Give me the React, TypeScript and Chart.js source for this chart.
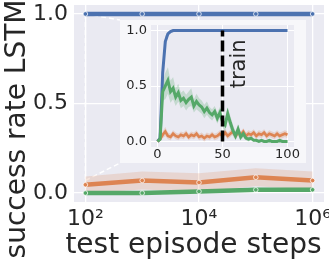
import React, { useEffect, useRef } from "react";
import { Chart, registerables } from "chart.js";

Chart.register(...registerables);

// ---------- data ----------
const MAIN_STEPS = [100, 1000, 10000, 100000, 1000000];
const MAIN_BLUE = [1, 1, 1, 1, 1];
const MAIN_BLUE_SD = [0, 0, 0, 0, 0];
const MAIN_ORANGE = [0.046, 0.07, 0.059, 0.088, 0.07];
const MAIN_ORANGE_SD = [0.046, 0.05, 0.051, 0.05, 0.05];
const MAIN_GREEN = [0.0, 0.0, 0.009, 0.018, 0.018];
const MAIN_GREEN_SD = [0.004, 0.004, 0.008, 0.012, 0.012];
const MAIN_X_TICKS = [100, 10000, 1000000];
const MAIN_X_TICK_LABELS = ["10²", "10⁴", "10⁶"];
const MAIN_Y_TICKS = [0, 0.5, 1.0];
const MAIN_Y_TICK_LABELS = ["0.0", "0.5", "1.0"];
const X_LABEL = "test episode steps";
const Y_LABEL = "success rate LSTM";

const INSET_STEPS = [0, 2, 4, 6, 8, 10, 12, 14, 16, 18, 20, 22, 24, 26, 28, 30, 32, 34, 36, 38, 40, 42, 44, 46, 48, 50, 52, 54, 56, 58, 60, 62, 64, 66, 68, 70, 72, 74, 76, 78, 80, 82, 84, 86, 88, 90, 92, 94, 96, 98, 100];
const INSET_BLUE = [0, 0.03, 0.62, 0.9, 0.97, 0.99, 1, 1, 1, 1, 1, 1, 1, 1, 1, 1, 1, 1, 1, 1, 1, 1, 1, 1, 1, 1, 1, 1, 1, 1, 1, 1, 1, 1, 1, 1, 1, 1, 1, 1, 1, 1, 1, 1, 1, 1, 1, 1, 1, 1, 1];
const INSET_BLUE_SD = [0, 0.02, 0.08, 0.05, 0.02, 0.01, 0.005, 0, 0, 0, 0, 0, 0, 0, 0, 0, 0, 0, 0, 0, 0, 0, 0, 0, 0, 0, 0, 0, 0, 0, 0, 0, 0, 0, 0, 0, 0, 0, 0, 0, 0, 0, 0, 0, 0, 0, 0, 0, 0, 0, 0];
const INSET_ORANGE = [0, 0.02, 0.06, 0.09, 0.05, 0.04, 0.07, 0.05, 0.04, 0.06, 0.05, 0.07, 0.04, 0.06, 0.05, 0.07, 0.04, 0.05, 0.03, 0.05, 0.04, 0.06, 0.04, 0.05, 0.07, 0.05, 0.08, 0.05, 0.07, 0.09, 0.05, 0.08, 0.06, 0.09, 0.05, 0.07, 0.06, 0.08, 0.05, 0.07, 0.06, 0.08, 0.05, 0.07, 0.06, 0.05, 0.07, 0.05, 0.06, 0.07, 0.06];
const INSET_ORANGE_SD = [0, 0.01, 0.03, 0.04, 0.03, 0.03, 0.03, 0.03, 0.03, 0.03, 0.03, 0.03, 0.03, 0.03, 0.03, 0.03, 0.03, 0.03, 0.03, 0.03, 0.03, 0.03, 0.03, 0.03, 0.03, 0.03, 0.03, 0.03, 0.03, 0.03, 0.03, 0.03, 0.03, 0.03, 0.03, 0.03, 0.03, 0.03, 0.03, 0.03, 0.03, 0.03, 0.03, 0.03, 0.03, 0.03, 0.03, 0.03, 0.03, 0.03, 0.03];
const INSET_GREEN = [0, 0.02, 0.45, 0.5, 0.55, 0.45, 0.48, 0.4, 0.44, 0.37, 0.39, 0.35, 0.38, 0.4, 0.32, 0.36, 0.33, 0.31, 0.27, 0.3, 0.26, 0.24, 0.27, 0.21, 0.26, 0.18, 0.15, 0.25, 0.17, 0.1, 0.05, 0.11, 0.04, 0.07, 0.03, 0.02, 0.03, 0.01, 0.01, 0, 0.01, 0, 0, 0.01, 0, 0, 0, 0.01, 0, 0, 0];
const INSET_GREEN_SD = [0, 0.02, 0.08, 0.12, 0.12, 0.1, 0.1, 0.08, 0.08, 0.07, 0.07, 0.07, 0.07, 0.08, 0.06, 0.07, 0.06, 0.06, 0.06, 0.06, 0.05, 0.05, 0.05, 0.05, 0.05, 0.05, 0.06, 0.06, 0.06, 0.05, 0.04, 0.05, 0.03, 0.03, 0.02, 0.02, 0.02, 0.01, 0.01, 0.01, 0.01, 0.01, 0.01, 0.01, 0.01, 0.01, 0.01, 0.01, 0.01, 0.01, 0.01];
const INSET_X_TICKS = [0, 50, 100];
const INSET_Y_TICKS = [0, 0.5, 1.0];
const TRAIN_STEP = 50;
const TRAIN_LABEL = "train";

// ---------- layout / style ----------
const W = 329;
const H = 262;
const INSET_BOX = { left: 120, top: 20, width: 186, height: 143 };
const MARK = { x: 100, yLow: 0.07, yHigh: 1.0 };
const TRAIN_POS = { x: 67, y: 0.7 };
const FONT = "'DejaVu Sans', 'Liberation Sans', sans-serif";
const TEXT = "#262626";
const BG = "#EAEAF2";
const BLUE = "#4C72B0";
const ORANGE = "#DD8452";
const GREEN = "#55A868";

function rgba(hex: string, a: number) {
  const n = parseInt(hex.slice(1), 16);
  return `rgba(${(n >> 16) & 255},${(n >> 8) & 255},${n & 255},${a})`;
}

function band(xs: number[], mean: number[], sd: number[], color: string, alpha: number) {
  const lower = {
    data: xs.map((x, i) => ({ x, y: mean[i] - sd[i] })),
    borderColor: "transparent",
    borderWidth: 0,
    pointRadius: 0,
    fill: false,
    order: 10,
  };
  const upper = {
    data: xs.map((x, i) => ({ x, y: mean[i] + sd[i] })),
    borderColor: "transparent",
    borderWidth: 0,
    pointRadius: 0,
    fill: "-1",
    backgroundColor: rgba(color, alpha),
    order: 10,
  };
  return [lower, upper];
}

function line(xs: number[], ys: number[], color: string, width: number, order: number, points: boolean) {
  return {
    data: xs.map((x, i) => ({ x, y: ys[i] })),
    borderColor: color,
    backgroundColor: color,
    borderWidth: width,
    pointRadius: points ? 2.3 : 0,
    pointBackgroundColor: color,
    pointBorderColor: "rgba(255,255,255,0.75)",
    pointBorderWidth: 1,
    fill: false,
    order,
  };
}

const plotBg = (fill: string, outer?: string) => ({
  id: "plotBg",
  beforeDraw(chart: any) {
    const { ctx, chartArea } = chart;
    ctx.save();
    if (outer) {
      ctx.fillStyle = outer;
      ctx.fillRect(0, 0, chart.width, chart.height);
    }
    ctx.fillStyle = fill;
    ctx.fillRect(chartArea.left, chartArea.top, chartArea.right - chartArea.left, chartArea.bottom - chartArea.top);
    ctx.restore();
  },
});

function noPad(s: any) {
  s.paddingTop = 0;
  s.paddingBottom = 0;
  s.paddingLeft = 0;
  s.paddingRight = 0;
}

export default function App() {
  const mainRef = useRef<HTMLCanvasElement>(null);
  const insetRef = useRef<HTMLCanvasElement>(null);

  useEffect(() => {
    Chart.defaults.font.family = FONT;
    Chart.defaults.color = TEXT;

    const connectors = {
      id: "connectors",
      beforeDatasetsDraw(chart: any) {
        const { ctx, scales } = chart;
        const px = scales.x.getPixelForValue(MARK.x);
        const pyHi = scales.y.getPixelForValue(MARK.yHigh);
        const pyLo = scales.y.getPixelForValue(MARK.yLow);
        ctx.save();
        ctx.strokeStyle = "rgba(255,255,255,0.95)";
        ctx.lineWidth = 1.5;
        ctx.setLineDash([5, 3]);
        ctx.beginPath();
        ctx.moveTo(px, pyHi);
        ctx.lineTo(px, pyLo);
        ctx.moveTo(px, pyHi);
        ctx.lineTo(INSET_BOX.left, INSET_BOX.top);
        ctx.moveTo(px, pyLo);
        ctx.lineTo(INSET_BOX.left, INSET_BOX.top + INSET_BOX.height);
        ctx.stroke();
        ctx.restore();
      },
    };

    const titles = {
      id: "titles",
      afterDraw(chart: any) {
        const { ctx } = chart;
        ctx.save();
        ctx.fillStyle = TEXT;
        ctx.font = `28px ${FONT}`;
        ctx.textAlign = "center";
        ctx.textBaseline = "alphabetic";
        ctx.fillText(X_LABEL, 193.5, 253);
        ctx.translate(25, 129);
        ctx.rotate(-Math.PI / 2);
        ctx.fillText(Y_LABEL, 0, 0);
        ctx.restore();
      },
    };

    const main = new Chart(mainRef.current!, {
      type: "line",
      data: {
        datasets: [
          ...band(MAIN_STEPS, MAIN_BLUE, MAIN_BLUE_SD, BLUE, 0.2),
          ...band(MAIN_STEPS, MAIN_ORANGE, MAIN_ORANGE_SD, ORANGE, 0.2),
          ...band(MAIN_STEPS, MAIN_GREEN, MAIN_GREEN_SD, GREEN, 0.2),
          line(MAIN_STEPS, MAIN_BLUE, BLUE, 4.5, 3, true),
          line(MAIN_STEPS, MAIN_ORANGE, ORANGE, 4.5, 2, true),
          line(MAIN_STEPS, MAIN_GREEN, GREEN, 4.5, 1, true),
        ] as any,
      },
      options: {
        responsive: false,
        animation: false,
        events: [],
        layout: { padding: { top: 3, right: 4, left: 0, bottom: 0 } },
        plugins: { legend: { display: false }, tooltip: { enabled: false } },
        scales: {
          x: {
            type: "logarithmic",
            min: Math.pow(10, 1.8),
            max: Math.pow(10, 6.2),
            afterBuildTicks: (s: any) => {
              s.ticks = MAIN_X_TICKS.map((v) => ({ value: v }));
            },
            afterFit: (s: any) => {
              s.height = 60;
              noPad(s);
            },
            ticks: {
              autoSkip: false,
              maxRotation: 0,
              padding: 4,
              font: { size: 22 },
              color: TEXT,
              callback: (v: any) => MAIN_X_TICK_LABELS[MAIN_X_TICKS.indexOf(Number(v))] ?? "",
            },
            grid: { color: "#ffffff", lineWidth: 1.3, drawTicks: false },
            border: { display: false },
          },
          y: {
            type: "linear",
            min: -0.05,
            max: 1.05,
            afterBuildTicks: (s: any) => {
              s.ticks = MAIN_Y_TICKS.map((v) => ({ value: v }));
            },
            afterFit: (s: any) => {
              s.width = 74;
              noPad(s);
            },
            ticks: {
              padding: 6,
              font: { size: 22 },
              color: TEXT,
              callback: (v: any) => MAIN_Y_TICK_LABELS[MAIN_Y_TICKS.indexOf(Number(v))] ?? "",
            },
            grid: { color: "#ffffff", lineWidth: 1.3, drawTicks: false },
            border: { display: false },
          },
        },
      },
      plugins: [plotBg(BG), connectors, titles],
    });

    const trainText = {
      id: "trainText",
      afterDatasetsDraw(chart: any) {
        const { ctx, scales } = chart;
        const px = scales.x.getPixelForValue(TRAIN_POS.x);
        const py = scales.y.getPixelForValue(TRAIN_POS.y);
        ctx.save();
        ctx.fillStyle = TEXT;
        ctx.font = `21px ${FONT}`;
        ctx.textAlign = "center";
        ctx.textBaseline = "alphabetic";
        ctx.translate(px, py);
        ctx.rotate(-Math.PI / 2);
        ctx.fillText(TRAIN_LABEL, 0, 0);
        ctx.restore();
      },
    };

    const inset = new Chart(insetRef.current!, {
      type: "line",
      data: {
        datasets: [
          ...band(INSET_STEPS, INSET_BLUE, INSET_BLUE_SD, BLUE, 0.25),
          ...band(INSET_STEPS, INSET_ORANGE, INSET_ORANGE_SD, ORANGE, 0.25),
          ...band(INSET_STEPS, INSET_GREEN, INSET_GREEN_SD, GREEN, 0.25),
          line(INSET_STEPS, INSET_BLUE, BLUE, 3, 3, false),
          line(INSET_STEPS, INSET_ORANGE, ORANGE, 2.6, 2, false),
          line(INSET_STEPS, INSET_GREEN, GREEN, 3, 1, false),
          {
            data: [
              { x: TRAIN_STEP, y: 0 },
              { x: TRAIN_STEP, y: 1 },
            ],
            borderColor: "#000000",
            borderWidth: 3.5,
            borderDash: [11, 4],
            pointRadius: 0,
            fill: false,
            order: 0,
          },
        ] as any,
      },
      options: {
        responsive: false,
        animation: false,
        events: [],
        layout: { padding: { top: 5, right: 12, left: 0, bottom: 0 } },
        plugins: { legend: { display: false }, tooltip: { enabled: false } },
        scales: {
          x: {
            type: "linear",
            min: -5,
            max: 105,
            afterBuildTicks: (s: any) => {
              s.ticks = INSET_X_TICKS.map((v) => ({ value: v }));
            },
            afterFit: (s: any) => {
              s.height = 16;
              noPad(s);
            },
            ticks: {
              autoSkip: false,
              maxRotation: 0,
              padding: 0,
              font: { size: 13 },
              color: TEXT,
              callback: (v: any) => String(v),
            },
            grid: { color: "#ffffff", lineWidth: 1, drawTicks: false },
            border: { display: false },
          },
          y: {
            type: "linear",
            min: -0.05,
            max: 1.05,
            afterBuildTicks: (s: any) => {
              s.ticks = INSET_Y_TICKS.map((v) => ({ value: v }));
            },
            afterFit: (s: any) => {
              s.width = 31;
              noPad(s);
            },
            ticks: {
              padding: 4,
              font: { size: 13 },
              color: TEXT,
              callback: (v: any) => Number(v).toFixed(1),
            },
            grid: { color: "#ffffff", lineWidth: 1, drawTicks: false },
            border: { display: false },
          },
        },
      },
      plugins: [plotBg(BG, "#F7F7FA"), trainText],
    });

    return () => {
      main.destroy();
      inset.destroy();
    };
  }, []);

  return (
    <div style={{ position: "fixed", left: 0, top: 0, width: W, height: H, background: "#ffffff", overflow: "hidden" }}>
      <canvas ref={mainRef} width={W} height={H} style={{ position: "absolute", left: 0, top: 0, width: W, height: H }} />
      <canvas
        ref={insetRef}
        width={INSET_BOX.width}
        height={INSET_BOX.height}
        style={{ position: "absolute", left: INSET_BOX.left, top: INSET_BOX.top, width: INSET_BOX.width, height: INSET_BOX.height }}
      />
    </div>
  );
}
